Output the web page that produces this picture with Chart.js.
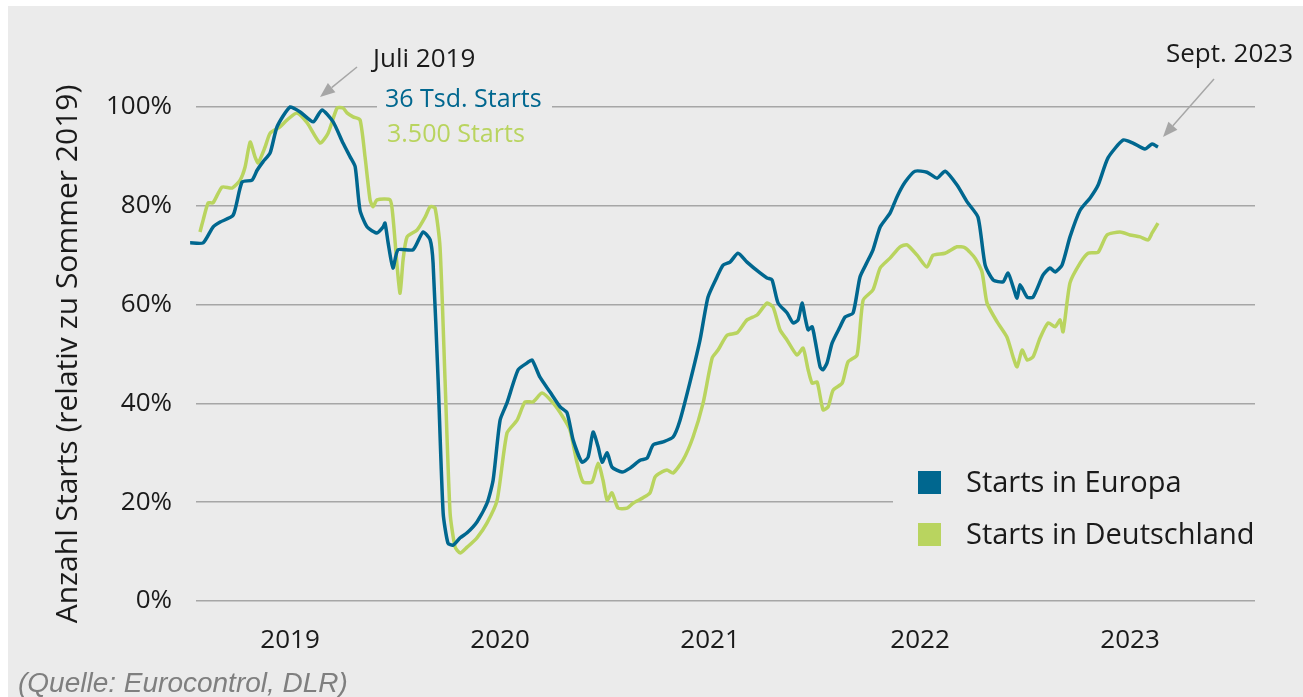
<!DOCTYPE html>
<html lang="de">
<head>
<meta charset="utf-8">
<title>Starts in Europa und Deutschland</title>
<script src="https://cdn.jsdelivr.net/npm/chart.js@4.4.0/dist/chart.umd.min.js"></script>
<style>
  html, body { margin: 0; padding: 0; background: #ffffff; }
  #panel {
    position: absolute; left: 8px; top: 6px;
    width: 1295px; height: 691px; background: #ebebeb;
  }
</style>
</head>
<body>
<div id="panel"><canvas id="lineChart" width="1295" height="691"></canvas></div>
<script>
// Daten (Jahr als Dezimalzahl, Werte in % relativ zu Sommer 2019)
const europaJahr = [2019.024, 2019.086, 2019.133, 2019.167, 2019.229, 2019.271, 2019.319, 2019.343, 2019.371, 2019.405,
  2019.438, 2019.500, 2019.548, 2019.610, 2019.652, 2019.705, 2019.752, 2019.786, 2019.810, 2019.833,
  2019.867, 2019.914, 2019.943, 2019.952, 2019.967, 2019.990, 2020.014, 2020.086, 2020.133, 2020.167,
  2020.181, 2020.205, 2020.229, 2020.252, 2020.276, 2020.310, 2020.343, 2020.390, 2020.438, 2020.467,
  2020.500, 2020.533, 2020.586, 2020.629, 2020.652, 2020.690, 2020.738, 2020.786, 2020.819, 2020.848,
  2020.890, 2020.919, 2020.943, 2020.967, 2020.986, 2021.010, 2021.033, 2021.081, 2021.119, 2021.167,
  2021.200, 2021.229, 2021.276, 2021.324, 2021.357, 2021.405, 2021.452, 2021.490, 2021.533, 2021.562,
  2021.595, 2021.633, 2021.676, 2021.738, 2021.771, 2021.795, 2021.824, 2021.867, 2021.895, 2021.919,
  2021.938, 2021.952, 2021.967, 2021.986, 2022.000, 2022.024, 2022.038, 2022.057, 2022.081, 2022.119,
  2022.143, 2022.181, 2022.214, 2022.248, 2022.276, 2022.310, 2022.357, 2022.390, 2022.429, 2022.476,
  2022.533, 2022.581, 2022.619, 2022.676, 2022.724, 2022.776, 2022.810, 2022.848, 2022.895, 2022.919,
  2022.943, 2022.962, 2022.976, 2023.010, 2023.038, 2023.086, 2023.119, 2023.143, 2023.176, 2023.214,
  2023.262, 2023.310, 2023.348, 2023.395, 2023.467, 2023.514, 2023.571, 2023.605, 2023.633];
const europaWerte = [72.5, 72.5, 75.7, 76.7, 78.1, 84.8, 85.2, 87.2, 88.9, 90.7,
  96.0, 100, 99.0, 97.0, 99.4, 97.0, 92.7, 89.9, 87.9, 79.1,
  75.7, 74.5, 75.7, 76.5, 72.5, 67.4, 71.1, 71.1, 74.7, 73.1,
  68.4, 44.7, 17.8, 11.7, 11.3, 12.8, 13.8, 16.0, 19.8, 24.5,
  36.6, 40.1, 46.8, 48.2, 48.8, 45.3, 42.3, 39.3, 38.1, 32.6,
  28.1, 29.1, 34.2, 31.2, 28.1, 30.0, 27.1, 26.1, 26.9, 28.5,
  28.9, 31.6, 32.2, 33.2, 36.6, 44.4, 52.8, 61.5, 65.6, 68.0,
  68.6, 70.4, 68.6, 66.4, 65.4, 65.0, 60.3, 58.3, 56.3, 56.9,
  60.3, 57.5, 54.9, 55.5, 52.8, 47.4, 46.8, 48.2, 52.2, 55.5,
  57.5, 58.3, 65.6, 68.6, 71.1, 75.7, 78.5, 81.8, 84.8, 87.0,
  86.8, 85.6, 87.0, 84.2, 80.8, 77.7, 68.0, 65.0, 64.6, 66.4,
  63.6, 61.3, 64.0, 61.5, 61.5, 66.0, 67.4, 66.6, 68.0, 73.7,
  79.1, 81.6, 84.2, 89.7, 93.3, 92.7, 91.5, 92.5, 91.9];

const deutschJahr = [2019.071, 2019.086, 2019.110, 2019.133, 2019.176, 2019.224, 2019.262, 2019.286, 2019.310, 2019.333,
  2019.348, 2019.381, 2019.405, 2019.452, 2019.486, 2019.533, 2019.581, 2019.643, 2019.681, 2019.724,
  2019.752, 2019.771, 2019.800, 2019.833, 2019.857, 2019.881, 2019.895, 2019.914, 2019.976, 2019.990,
  2020.010, 2020.024, 2020.038, 2020.057, 2020.105, 2020.143, 2020.167, 2020.190, 2020.214, 2020.238,
  2020.262, 2020.286, 2020.310, 2020.343, 2020.390, 2020.438, 2020.486, 2020.533, 2020.581, 2020.619,
  2020.657, 2020.700, 2020.752, 2020.800, 2020.833, 2020.867, 2020.895, 2020.938, 2020.967, 2020.990,
  2021.010, 2021.033, 2021.062, 2021.105, 2021.133, 2021.181, 2021.214, 2021.238, 2021.262, 2021.295,
  2021.324, 2021.371, 2021.419, 2021.467, 2021.510, 2021.538, 2021.581, 2021.629, 2021.676, 2021.724,
  2021.771, 2021.800, 2021.833, 2021.867, 2021.914, 2021.943, 2021.967, 2021.986, 2022.010, 2022.038,
  2022.062, 2022.086, 2022.129, 2022.157, 2022.200, 2022.229, 2022.276, 2022.310, 2022.357, 2022.405,
  2022.438, 2022.486, 2022.533, 2022.562, 2022.619, 2022.676, 2022.714, 2022.762, 2022.795, 2022.819,
  2022.867, 2022.914, 2022.943, 2022.962, 2022.986, 2023.010, 2023.038, 2023.071, 2023.110, 2023.143,
  2023.167, 2023.181, 2023.214, 2023.262, 2023.300, 2023.348, 2023.390, 2023.452, 2023.500, 2023.548,
  2023.586, 2023.605, 2023.633];
const deutschWerte = [74.7, 77.1, 80.6, 80.6, 83.8, 83.6, 85.2, 87.9, 92.9, 89.9,
  88.7, 91.9, 94.7, 96.0, 97.4, 98.8, 96.8, 92.7, 94.7, 99.8,
  99.8, 98.8, 98.0, 97.4, 89.9, 81.2, 79.8, 81.2, 81.2, 77.7,
  67.6, 62.3, 69.0, 73.7, 75.1, 77.7, 79.8, 79.6, 71.7, 44.7,
  17.8, 10.9, 9.7, 10.9, 12.8, 15.8, 20.4, 34.0, 36.6, 40.3,
  40.3, 42.1, 40.1, 37.2, 34.6, 27.9, 24.1, 24.1, 27.9, 24.5,
  20.4, 21.9, 18.8, 18.8, 19.8, 20.9, 21.9, 25.1, 25.9, 26.5,
  25.9, 28.5, 33.2, 40.1, 49.2, 50.8, 53.8, 54.3, 56.9, 57.9,
  60.3, 59.5, 54.9, 52.8, 49.8, 51.2, 46.8, 44.1, 44.3, 38.7,
  39.3, 42.7, 44.1, 48.4, 49.8, 60.9, 63.0, 67.4, 69.4, 71.7,
  72.1, 70.0, 67.6, 70.0, 70.4, 71.7, 71.5, 69.4, 66.6, 60.3,
  56.5, 53.4, 49.4, 47.4, 50.8, 48.8, 49.4, 53.2, 56.3, 55.5,
  56.9, 54.5, 64.4, 68.4, 70.4, 70.6, 74.1, 74.7, 74.1, 73.7,
  73.1, 74.5, 76.5];

const tickJahre = [2019.5, 2020.5, 2021.5, 2022.5, 2023.5];
const jahresLabels = ["2019", "2020", "2021", "2022", "2023"];
const yTicks = [0, 20, 40, 60, 80, 100];

const BLAU = "#00678f";
const GRUEN = "#b9d45f";
const GRAU = "#a6a6a6";
const TEXT = "#1a1a1a";
const BG = "#ebebeb";

function pfeil(ctx, x1, y1, x2, y2) {
  const ang = Math.atan2(y2 - y1, x2 - x1);
  const len = 15, w = 6;
  ctx.save();
  ctx.strokeStyle = GRAU;
  ctx.fillStyle = GRAU;
  ctx.lineWidth = 1.5;
  ctx.beginPath();
  ctx.moveTo(x1, y1);
  ctx.lineTo(x2 - Math.cos(ang) * len, y2 - Math.sin(ang) * len);
  ctx.stroke();
  ctx.beginPath();
  ctx.moveTo(x2, y2);
  ctx.lineTo(x2 - Math.cos(ang) * len - Math.sin(ang) * w, y2 - Math.sin(ang) * len + Math.cos(ang) * w);
  ctx.lineTo(x2 - Math.cos(ang) * len + Math.sin(ang) * w, y2 - Math.sin(ang) * len - Math.cos(ang) * w);
  ctx.closePath();
  ctx.fill();
  ctx.restore();
}

// Beschriftungen, Pfeile und Legende
const beschriftung = {
  id: "beschriftung",
  afterDraw(chart) {
    const ctx = chart.ctx;
    ctx.save();
    ctx.textBaseline = "middle";

    // Legende (deckt die Gitterlinie ab)
    ctx.fillStyle = BG;
    ctx.fillRect(885, 456, 364, 96);
    ctx.fillStyle = BLAU;
    ctx.fillRect(910, 465, 23, 23);
    ctx.fillStyle = GRUEN;
    ctx.fillRect(910, 517, 23, 23);
    ctx.fillStyle = TEXT;
    ctx.font = "29px 'Open Sans'";
    ctx.textAlign = "left";
    ctx.fillText("Starts in Europa", 958, 478);
    ctx.fillText("Starts in Deutschland", 958, 530);

    // Juli 2019
    ctx.fillStyle = BG;
    ctx.fillRect(369, 82, 175, 24);
    ctx.font = "26px 'Open Sans'";
    ctx.fillStyle = TEXT;
    ctx.fillText("Juli 2019", 365, 54);
    ctx.font = "25px 'Open Sans'";
    ctx.fillStyle = BLAU;
    ctx.fillText("36 Tsd. Starts", 377, 94);
    ctx.fillStyle = GRUEN;
    ctx.fillText("3.500 Starts", 379, 129);

    // Sept. 2023
    ctx.font = "26px 'Open Sans'";
    ctx.fillStyle = TEXT;
    ctx.textAlign = "right";
    ctx.fillText("Sept. 2023", 1285, 49);

    pfeil(ctx, 349, 61, 312, 91);
    pfeil(ctx, 1206, 73, 1155, 131);

    // Quelle
    ctx.textAlign = "left";
    ctx.fillStyle = "#7f7f7f";
    ctx.font = "italic 28px 'Liberation Sans'";
    ctx.fillText("(Quelle: Eurocontrol, DLR)", 10, 678);
    ctx.restore();
  }
};

const ctxLine = document.getElementById("lineChart").getContext("2d");
new Chart(ctxLine, {
  type: "line",
  data: {
    datasets: [{
      label: "Starts in Europa",
      data: europaJahr.map((x, i) => ({ x: x, y: europaWerte[i] })),
      borderColor: BLAU,
      borderWidth: 3.5,
      pointRadius: 0,
      tension: 0.2,
      clip: false
    }, {
      label: "Starts in Deutschland",
      data: deutschJahr.map((x, i) => ({ x: x, y: deutschWerte[i] })),
      borderColor: GRUEN,
      borderWidth: 3.5,
      pointRadius: 0,
      tension: 0.2,
      clip: false
    }]
  },
  options: {
    responsive: false,
    animation: false,
    layout: { padding: { top: 101, right: 48, left: 0, bottom: 0 } },
    plugins: {
      legend: { display: false },
      tooltip: { enabled: false }
    },
    scales: {
      x: {
        type: "linear",
        min: 2019.052,
        max: 2024.095,
        afterBuildTicks: (s) => { s.ticks = tickJahre.map(v => ({ value: v })); },
        afterFit: (s) => { s.height = 96; },
        ticks: {
          padding: 24,
          color: TEXT,
          font: { family: "'Open Sans'", size: 26 },
          callback: (v) => jahresLabels[tickJahre.indexOf(v)]
        },
        grid: { display: false, drawTicks: false },
        border: { display: false }
      },
      y: {
        min: 0,
        max: 100,
        afterBuildTicks: (s) => { s.ticks = yTicks.map(v => ({ value: v })); },
        afterFit: (s) => { s.width = 188; },
        ticks: {
          padding: 24,
          color: TEXT,
          font: { family: "'Open Sans'", size: 26 },
          callback: (v) => v + "%"
        },
        grid: { color: GRAU, lineWidth: 1.5, drawTicks: false },
        border: { display: false },
        title: {
          display: true,
          text: "Anzahl Starts (relativ zu Sommer 2019)",
          color: TEXT,
          font: { family: "'Open Sans'", size: 30 },
          padding: { top: 42, bottom: 0 }
        }
      }
    }
  },
  plugins: [beschriftung]
});
</script>
</body>
</html>
